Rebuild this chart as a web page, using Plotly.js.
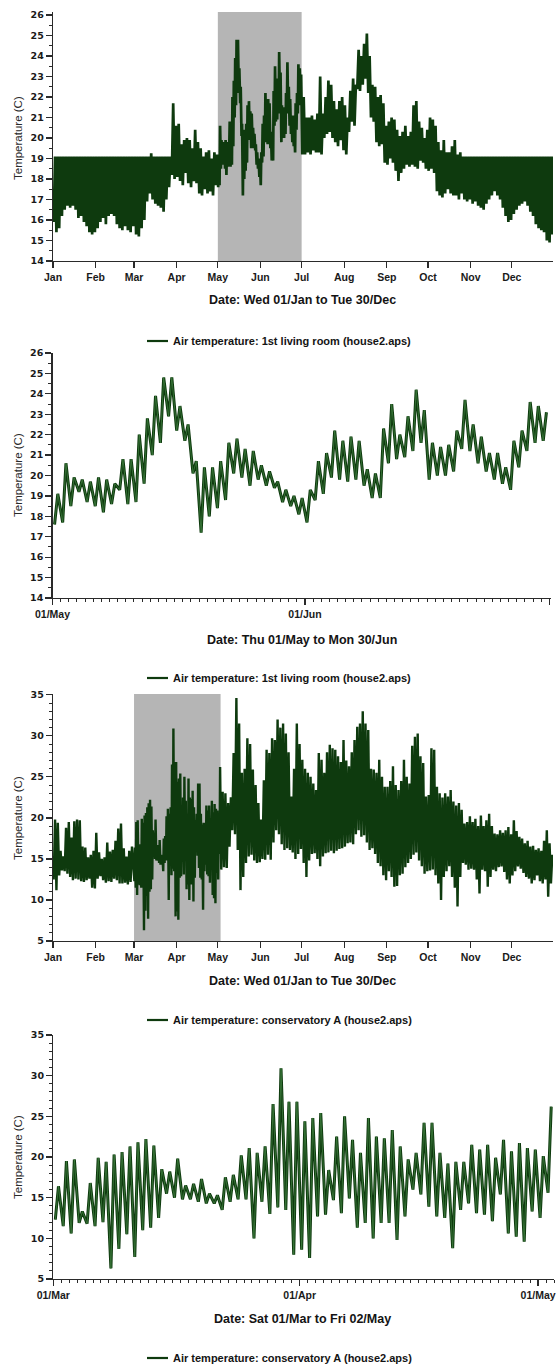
<!DOCTYPE html>
<html>
<head>
<meta charset="utf-8">
<script src="https://cdn.plot.ly/plotly-3.0.1.min.js"></script>
<style>
  html, body { margin: 0; padding: 0; background: #ffffff; }
  #chart { width: 560px; height: 1369px; }
</style>
</head>
<body>
<div id="chart"></div>
<script>
// ---- Living room, daily minimum / maximum, 01 May - 30 Jun 2003 ----
const livingMayJunLo = [
  17.6, 17.7, 18.5, 19.2, 18.7, 18.5, 18.2, 18.6, 19.3, 18.6, 18.7, 19.6, 21.0, 21.6, 22.9, 22.2,
  21.7, 20.1, 17.2, 18.0, 18.4, 18.8, 20.1, 19.9, 19.5, 19.8, 19.5, 19.4, 18.7, 18.5, 18.1,
  17.7, 18.8, 19.1, 19.9, 19.8, 19.7, 19.8, 19.5, 18.9, 18.9, 20.6, 20.8, 20.9, 21.2, 21.6,
  19.8, 20.0, 20.0, 20.2, 21.3, 21.2, 20.6, 20.2, 19.8, 19.6, 19.3, 20.4, 21.2, 21.6, 21.7
];
const livingMayJunHi = [
  19.1, 20.6, 19.9, 19.8, 19.7, 19.9, 19.8, 19.6, 20.8, 20.8, 22.0, 22.8, 23.9, 24.8, 24.8, 23.4,
  22.5, 20.7, 20.4, 20.4, 20.7, 21.6, 21.8, 21.3, 21.2, 20.5, 20.2, 19.7, 19.3, 19.0, 18.9,
  19.3, 20.7, 21.1, 22.2, 21.7, 21.9, 21.7, 20.3, 20.1, 22.3, 23.5, 22.0, 22.9, 24.2, 23.2,
  21.6, 21.4, 21.5, 22.2, 23.7, 22.5, 21.9, 21.1, 21.1, 20.4, 21.7, 22.2, 23.6, 23.4, 23.1
];

// ---- Living room, two-day minimum / maximum, 01 Jan - 30 Apr ----
const livingJanAprLo = [
  15.9, 15.4, 15.6, 16.2, 16.5, 16.7, 16.6, 16.7, 16.5, 16.1,
  16.2, 15.9, 15.7, 15.4, 15.3, 15.4, 15.6, 15.9, 16.1, 15.8,
  16.2, 16.3, 16.2, 15.8, 15.6, 15.5, 15.7, 15.5, 15.4, 15.7,
  15.3, 15.2, 15.6, 16.0, 16.9, 17.3, 17.0, 16.8, 16.7, 16.6,
  16.4, 17.0, 17.6, 18.2, 18.0, 18.1, 17.9, 17.7, 18.3, 17.8,
  17.6, 17.9, 17.8, 17.3, 17.2, 17.5, 17.3, 17.4, 17.2, 17.7
];
const livingJanAprHi = [
  19.1, 19.1, 19.1, 19.1, 19.1, 19.1, 19.1, 19.1, 19.1, 19.1,
  19.1, 19.1, 19.1, 19.1, 19.1, 19.1, 19.1, 19.1, 19.1, 19.1,
  19.1, 19.1, 19.1, 19.1, 19.1, 19.1, 19.1, 19.1, 19.1, 19.1,
  19.1, 19.1, 19.1, 19.1, 19.1, 19.25, 19.1, 19.1, 19.1, 19.1,
  19.1, 19.1, 19.1, 21.7, 20.6, 20.7, 19.7, 19.9, 20.0, 19.9,
  19.5, 20.4, 19.8, 19.5, 19.1, 19.3, 19.4, 19.0, 19.3, 19.2
];

// ---- Living room, two-day minimum / maximum, 01 Jul - 31 Dec ----
const livingJulDecLo = [
  19.2, 19.2, 19.3, 19.2, 19.4, 19.3, 19.3, 19.2, 20.0, 20.2,
  20.3, 20.0, 19.8, 19.6, 19.9, 19.4, 19.2, 20.3, 20.8, 20.6,
  22.4, 22.3, 22.6, 22.9, 22.2, 21.0, 20.8, 19.8, 19.6, 19.7,
  18.8, 18.7, 19.0, 18.8, 18.4, 17.9, 18.3, 18.5, 18.7, 18.6,
  18.7, 18.6, 18.5, 18.9, 18.8, 18.5, 18.4, 18.5, 18.3, 17.4,
  17.2, 17.1, 17.3, 17.5, 17.3, 17.2, 17.2, 17.0, 17.3, 17.0,
  16.9, 17.0, 16.8, 16.9, 16.7, 16.6, 16.5, 16.8, 17.0, 17.2,
  17.4, 17.2, 17.0, 16.6, 16.2, 15.9, 16.0, 16.3, 16.5, 16.7,
  16.8, 16.9, 16.7, 16.4, 16.2, 15.8, 15.6, 15.5, 15.4, 15.0,
  14.9, 15.3
];
const livingJulDecHi = [
  22.0, 21.0, 21.0, 21.1, 20.9, 21.2, 23.0, 21.2, 22.0, 22.8,
  22.6, 21.8, 21.4, 21.8, 22.0, 21.6, 21.0, 22.3, 22.9, 22.6,
  24.3, 24.0, 24.6, 25.1, 24.0, 22.6, 22.5, 22.0, 22.1, 21.7,
  20.6, 20.8, 21.0, 20.9, 20.4, 20.1, 20.3, 20.6, 20.1, 20.3,
  21.6, 21.8, 20.8, 20.5, 20.0, 20.4, 21.0, 20.9, 20.6, 19.8,
  19.4, 19.9, 19.3, 19.3, 19.6, 19.9, 19.2, 19.3, 19.1, 19.1,
  19.1, 19.1, 19.1, 19.1, 19.1, 19.1, 19.1, 19.1, 19.1, 19.1,
  19.1, 19.1, 19.1, 19.1, 19.1, 19.1, 19.1, 19.1, 19.1, 19.1,
  19.1, 19.1, 19.1, 19.1, 19.1, 19.1, 19.1, 19.1, 19.1, 19.1,
  19.1, 19.1
];

// ---- Conservatory A, daily minimum / maximum, 01 Mar - 02 May ----
const consMarMayLo = [
  12.3, 11.5, 10.6, 11.9, 11.8, 11.5, 12.0, 6.3, 8.7, 10.5,
  7.7, 11.0, 11.3, 12.5, 15.5, 15.0, 14.8, 14.8, 14.5, 14.3,
  14.3, 13.5, 14.5, 14.8, 14.8, 10.0, 14.5, 13.0, 13.8, 13.5,
  8.0, 8.6, 7.6, 12.7, 12.9, 14.7, 13.1, 14.9, 11.3, 11.9,
  10.0, 11.9, 11.9, 9.8, 12.7, 16.0, 15.4, 13.9, 12.7, 12.5,
  8.8, 13.5, 14.3, 13.1, 12.9, 12.1, 15.4, 10.6, 10.2, 9.6,
  13.3, 12.5, 15.6
];
const consMarMayHi = [
  16.4, 19.5, 19.7, 13.3, 16.8, 19.9, 19.4, 20.3, 20.6, 21.3,
  21.8, 22.2, 21.4, 18.5, 18.2, 19.8, 16.5, 16.7, 17.3, 15.5,
  15.3, 17.5, 17.8, 20.2, 21.1, 20.5, 21.3, 26.5, 30.9, 26.8,
  26.8, 24.4, 24.8, 25.4, 18.4, 22.5, 25.0, 22.1, 20.5, 24.8,
  22.5, 22.3, 23.3, 21.3, 19.7, 20.5, 24.2, 24.2, 20.5, 19.2,
  19.4, 19.4, 21.5, 20.9, 21.5, 19.9, 22.1, 20.7, 21.7, 21.1,
  20.9, 20.1, 26.2
];

// ---- Conservatory A, two-day minimum / maximum, 01 Jan - 27 Feb ----
const consJanFebLo = [
  12.5, 11.2, 13.0, 13.6, 13.5, 13.2, 12.8, 12.4, 12.6, 12.5,
  12.3, 12.2, 12.4, 12.6, 11.5, 11.4, 12.6, 12.9, 12.4, 12.1,
  12.3, 12.2, 12.6, 12.4, 12.0, 12.0, 12.1, 11.9, 12.2
];
const consJanFebHi = [
  19.8, 19.4, 16.0, 15.3, 18.8, 19.5, 17.6, 19.6, 19.8, 19.7,
  16.5, 16.4, 15.2, 15.5, 16.0, 18.2, 15.8, 15.0, 15.2, 17.0,
  15.9, 16.1, 17.2, 18.7, 19.3, 16.3, 15.3, 16.0, 16.5
];

// ---- Conservatory A, two-day minimum / maximum, 03 May - 30 Dec ----
const consMayDecLo = [
  13.7, 14.0, 13.9, 16.5, 18.5, 18.0, 16.1, 11.2, 12.8, 14.5,
  15.3, 15.5, 14.8, 14.5, 14.6, 15.0, 14.9, 15.5, 14.9, 17.0,
  18.5, 18.0, 16.8, 16.1, 16.3, 16.1, 15.8, 15.0, 15.6, 16.2,
  14.5, 12.8, 14.8, 15.6, 15.7, 15.0, 14.1, 15.3, 15.7, 15.8,
  16.0, 15.7, 16.0, 16.2, 16.3, 16.5, 16.9, 17.0, 16.8, 18.0,
  18.5, 17.7, 17.9, 17.0, 16.1, 16.3, 15.6, 14.5, 14.1, 13.0,
  12.4, 13.5, 12.8, 11.6, 11.7, 13.0, 13.2, 14.0, 14.5, 15.0,
  15.5, 15.8, 14.8, 14.1, 13.2, 13.5, 13.6, 13.7, 13.0, 12.0,
  10.0, 12.8, 13.5, 14.1, 12.8, 11.5, 9.2, 12.8, 14.5, 14.3,
  13.7, 13.8, 13.7, 12.5, 10.8, 13.7, 13.5, 11.6, 12.8, 13.7,
  13.5, 14.0, 14.1, 13.4, 12.5, 12.0, 13.0, 13.5, 14.1, 13.8,
  13.3, 12.8, 12.6, 12.0, 12.4, 13.0, 12.3, 12.0, 12.5, 10.4,
  12.0
];
const consMayDecHi = [
  23.2, 23.0, 21.8, 22.5, 27.9, 34.6, 31.5, 25.5, 26.0, 29.7,
  29.0, 25.9, 24.0, 21.8, 19.8, 24.6, 28.3, 27.9, 29.7, 29.5,
  32.0, 31.0, 31.5, 30.3, 28.0, 22.6, 26.0, 31.5, 29.0, 27.1,
  26.0, 25.5, 25.0, 24.2, 23.4, 27.9, 27.1, 25.5, 28.0, 28.9,
  28.5, 28.3, 27.5, 26.8, 29.5, 27.0, 26.3, 28.0, 29.5, 31.1,
  31.5, 33.0, 31.5, 30.7, 26.0, 25.9, 25.5, 27.1, 25.0, 23.8,
  23.8, 24.5, 26.3, 24.0, 23.4, 24.5, 27.1, 25.0, 24.2, 28.8,
  29.9, 30.3, 27.5, 26.7, 22.6, 22.8, 28.5, 28.3, 23.8, 23.0,
  22.5, 23.0, 22.6, 23.4, 22.0, 21.5, 21.8, 21.0, 19.3, 19.5,
  20.2, 19.5, 19.9, 19.0, 20.3, 19.0, 19.7, 20.5, 19.0, 18.1,
  18.0, 18.5, 18.2, 18.5, 18.9, 18.0, 19.7, 18.4, 17.7, 17.5,
  16.9, 17.2, 16.5, 16.6, 16.1, 16.3, 16.0, 17.2, 18.5, 16.9,
  15.5
];

// ---- Axis ticks and text ----
const monthTickDates = ['2003-01-01', '2003-02-01', '2003-03-01', '2003-04-01', '2003-05-01', '2003-06-01',
                        '2003-07-01', '2003-08-01', '2003-09-01', '2003-10-01', '2003-11-01', '2003-12-01'];
const monthLabels = ['Jan', 'Feb', 'Mar', 'Apr', 'May', 'Jun', 'Jul', 'Aug', 'Sep', 'Oct', 'Nov', 'Dec'];
const mayJunTickDates = ['2003-05-01', '2003-06-01', '2003-07-01'];
const mayJunLabels = ['01/May', '01/Jun', '01/Jul'];
const marAprTickDates = ['2003-03-01', '2003-04-01', '2003-05-01'];
const marAprLabels = ['01/Mar', '01/Apr', '01/May'];

const axisTitles = ['Date: Wed 01/Jan to Tue 30/Dec', 'Date: Thu 01/May to Mon 30/Jun',
                    'Date: Wed 01/Jan to Tue 30/Dec', 'Date: Sat 01/Mar to Fri 02/May'];
const seriesNames = ['Air temperature: 1st living room (house2.aps)', 'Air temperature: 1st living room (house2.aps)',
                     'Air temperature: conservatory A (house2.aps)', 'Air temperature: conservatory A (house2.aps)'];
const yTitle = 'Temperature (C)';

// Highlighted periods on the yearly panels
const livingFocus = ['2003-05-01', '2003-07-01'];
const consFocus = ['2003-03-01', '2003-05-03'];

// ---- Build the zig-zag series: each period goes to its minimum, then to its maximum ----
const DAY = 86400000;
function fmt(ms) { return new Date(ms).toISOString().slice(0, 19).replace('T', ' '); }
function zigzag(start, stepDays, lo, hi, loAt, hiAt) {
  const t0 = Date.parse(start + 'T00:00:00Z');
  const x = [], y = [];
  for (let i = 0; i < lo.length; i++) {
    const base = t0 + i * stepDays * DAY;
    x.push(fmt(base + loAt * stepDays * DAY)); y.push(lo[i]);
    x.push(fmt(base + hiAt * stepDays * DAY)); y.push(hi[i]);
  }
  return { x, y };
}
function join(parts) {
  return { x: [].concat(...parts.map(p => p.x)), y: [].concat(...parts.map(p => p.y)) };
}

const livingMayJun = zigzag('2003-05-01', 1, livingMayJunLo, livingMayJunHi, 0.25, 0.65);
const livingYear = join([
  zigzag('2003-01-01', 2, livingJanAprLo, livingJanAprHi, 0.25, 0.75),
  livingMayJun,
  zigzag('2003-07-01', 2, livingJulDecLo, livingJulDecHi, 0.25, 0.75)
]);
const consMarMay = zigzag('2003-03-01', 1, consMarMayLo, consMarMayHi, 0.25, 0.65);
const consYear = join([
  zigzag('2003-01-01', 2, consJanFebLo, consJanFebHi, 0.25, 0.75),
  consMarMay,
  zigzag('2003-05-03', 2, consMayDecLo, consMayDecHi, 0.25, 0.75)
]);

const GREEN = '#0e3a0e';
const GREEN_LIGHT = '#3f7d3f';

const traces = [
  { x: livingYear.x, y: livingYear.y, xaxis: 'x', yaxis: 'y', type: 'scatter', mode: 'lines',
    line: { color: GREEN, width: 2.7 }, name: seriesNames[0] },
  { x: livingMayJun.x, y: livingMayJun.y, xaxis: 'x2', yaxis: 'y2', type: 'scatter', mode: 'lines',
    line: { color: GREEN, width: 3 }, name: seriesNames[1] },
  { x: livingMayJun.x, y: livingMayJun.y, xaxis: 'x2', yaxis: 'y2', type: 'scatter', mode: 'lines',
    line: { color: GREEN_LIGHT, width: 0.8 }, name: seriesNames[1] },
  { x: consYear.x, y: consYear.y, xaxis: 'x3', yaxis: 'y3', type: 'scatter', mode: 'lines',
    line: { color: GREEN, width: 2.4 }, name: seriesNames[2] },
  { x: consMarMay.x, y: consMarMay.y, xaxis: 'x4', yaxis: 'y4', type: 'scatter', mode: 'lines',
    line: { color: GREEN, width: 3 }, name: seriesNames[3] },
  { x: consMarMay.x, y: consMarMay.y, xaxis: 'x4', yaxis: 'y4', type: 'scatter', mode: 'lines',
    line: { color: GREEN_LIGHT, width: 0.8 }, name: seriesNames[3] }
];
traces.forEach(t => { t.showlegend = false; t.hoverinfo = 'skip'; });

// ---- Layout ----
const W = 560, H = 1369;
const px = v => v / W;
const py = v => 1 - v / H;
const ydom = (top, bottom) => [py(bottom), py(top)];

const FONT = 'Liberation Sans, Arial, sans-serif';
const AXIS_COLOR = '#2a2a2a';
const baseAxis = {
  showline: true, linecolor: AXIS_COLOR, linewidth: 1.3,
  ticks: 'outside', tickcolor: AXIS_COLOR, tickwidth: 1.2, ticklen: 6,
  showgrid: false, zeroline: false, fixedrange: true,
  tickfont: { family: FONT, size: 10.5, color: '#1a1a1a', weight: 'bold' }
};
function xAxis(anchor, left, right, range, vals, text, minorDay) {
  const ax = Object.assign({}, baseAxis, {
    anchor: anchor, type: 'date', domain: [px(left), px(right)], range: range,
    tickmode: 'array', tickvals: vals, ticktext: text
  });
  if (minorDay) {
    ax.minor = { dtick: DAY, tick0: range[0], ticks: 'outside', ticklen: 3, tickcolor: AXIS_COLOR, tickwidth: 1, showgrid: false };
  }
  return ax;
}
function yAxis(anchor, top, bottom, range, dtick, minor) {
  return Object.assign({}, baseAxis, {
    anchor: anchor, domain: ydom(top, bottom), range: range,
    tick0: range[0], dtick: dtick, ticklen: 6,
    tickfont: { family: 'DejaVu Sans, sans-serif', size: 9.5, color: '#1a1a1a', weight: 'bold' },
    minor: { dtick: minor, ticks: 'outside', ticklen: 3, tickcolor: AXIS_COLOR, tickwidth: 1, showgrid: false }
  });
}

const layout = {
  width: W, height: H,
  margin: { l: 0, r: 0, t: 0, b: 0 },
  paper_bgcolor: '#ffffff', plot_bgcolor: '#ffffff',
  showlegend: false,
  xaxis:  xAxis('y',  53, 553, ['2003-01-01', '2003-12-31'], monthTickDates, monthLabels, false),
  yaxis:  yAxis('x',  12, 261, [14, 26.15], 1, 0.5),
  xaxis2: xAxis('y2', 52.5, 551, ['2003-05-01', '2003-07-01 05:00'], mayJunTickDates, mayJunLabels, true),
  yaxis2: yAxis('x2', 353, 598, [14, 26], 1, 0.5),
  xaxis3: xAxis('y3', 53, 553, ['2003-01-01', '2003-12-31'], monthTickDates, monthLabels, false),
  yaxis3: yAxis('x3', 694, 941, [5, 35.1], 5, 1),
  xaxis4: xAxis('y4', 53.3, 554, ['2003-03-01', '2003-05-03'], marAprTickDates, marAprLabels, true),
  yaxis4: yAxis('x4', 1035, 1279, [5, 35], 5, 1),
  shapes: [
    { type: 'rect', layer: 'below', xref: 'x', yref: 'y', x0: livingFocus[0], x1: livingFocus[1], y0: 14, y1: 26.15,
      fillcolor: '#b5b5b5', line: { width: 0 } },
    { type: 'rect', layer: 'below', xref: 'x3', yref: 'y3', x0: consFocus[0], x1: consFocus[1], y0: 5, y1: 35.1,
      fillcolor: '#b5b5b5', line: { width: 0 } }
  ],
  annotations: []
};

// Axis captions, key entries and vertical axis titles
const titleY = [300, 640, 981, 1319];
const keyY = [341, 678, 1020, 1358];
const plotMidY = [138, 475, 818, 1157];
for (let i = 0; i < 4; i++) {
  layout.annotations.push({
    xref: 'paper', yref: 'paper', x: px(302), y: py(titleY[i]), xanchor: 'center', yanchor: 'middle',
    showarrow: false, text: axisTitles[i],
    font: { family: FONT, size: 12.5, color: '#141414', weight: 'bold' }
  });
  layout.annotations.push({
    xref: 'paper', yref: 'paper', x: px(171), y: py(keyY[i]), xanchor: 'left', yanchor: 'middle',
    showarrow: false, text: seriesNames[i],
    font: { family: FONT, size: 11, color: '#141414', weight: 'bold' }
  });
  layout.annotations.push({
    xref: 'paper', yref: 'paper', x: px(18), y: py(plotMidY[i]), xanchor: 'center', yanchor: 'middle',
    showarrow: false, text: yTitle, textangle: -90,
    font: { family: FONT, size: 11.5, color: '#2a2a2a' }
  });
  layout.shapes.push({
    type: 'line', xref: 'paper', yref: 'paper', x0: px(147), x1: px(168), y0: py(keyY[i]), y1: py(keyY[i]),
    line: { color: GREEN, width: 2.2 }
  });
}

Plotly.newPlot('chart', traces, layout, { staticPlot: true, displayModeBar: false });
</script>
</body>
</html>
